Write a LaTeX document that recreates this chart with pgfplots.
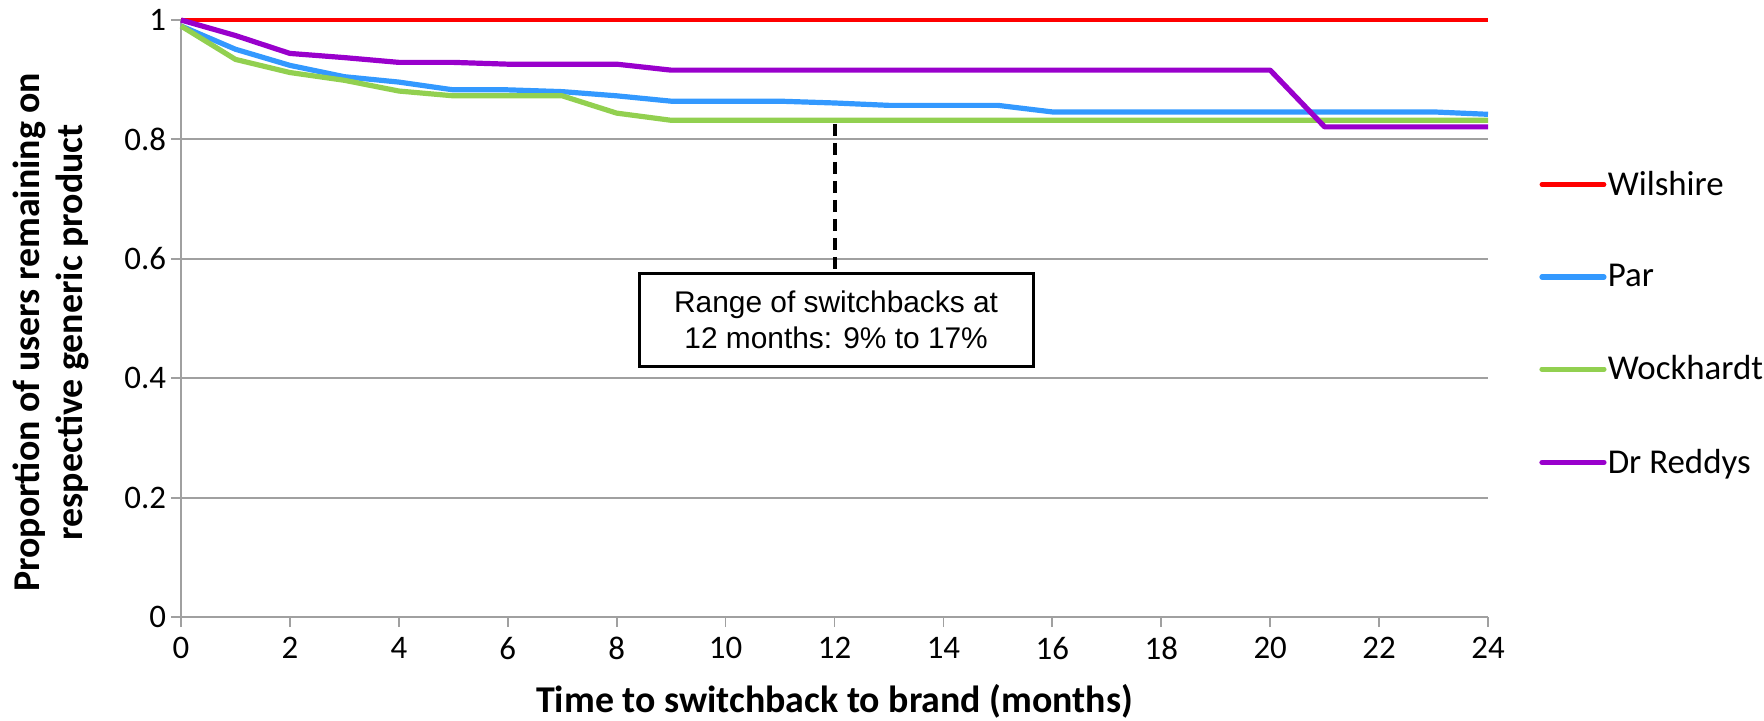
\documentclass[border=0pt]{standalone}
\usepackage{fontspec}
\setmainfont{Carlito}
\newfontfamily\arialfont{Liberation Sans}
\usepackage{pgfplots}
\pgfplotsset{compat=1.18}
\definecolor{cred}{HTML}{FF0000}
\definecolor{cblue}{HTML}{3399FF}
\definecolor{cgreen}{HTML}{92D050}
\definecolor{cpurple}{HTML}{9900CC}
\definecolor{cgrid}{HTML}{A0A0A0}
\begin{document}
\begin{tikzpicture}
\useasboundingbox (-90.5bp,-52bp) rectangle (791.5bp,308.5bp);
\begin{axis}[
  at={(0,0)}, anchor=south west,
  scale only axis, width=653.5bp, height=298.5bp,
  xmin=0, xmax=24, ymin=0, ymax=1,
  xtick={0,2,...,24}, ytick={0,0.2,0.4,0.6,0.8,1},
  axis lines*=left,
  axis line style={draw=cgrid, line width=0.9bp},
  ymajorgrids, grid style={draw=cgrid, line width=0.9bp},
  tick style={draw=cgrid, line width=0.9bp},
  tick align=outside, major tick length=5bp,
  /pgf/number format/assume math mode=true,
  ticklabel style={font=\fontsize{16.5}{18}\selectfont},
  xticklabel style={yshift=-1.5bp},
  yticklabel style={xshift=1bp},
  xlabel={Time to switchback to brand (months)},
  xlabel style={font=\bfseries\fontsize{19}{22}\selectfont, at={(axis description cs:0.5,-0.141)}, anchor=center},
  ylabel={Proportion of users remaining on\\respective generic product},
  ylabel style={font=\bfseries\fontsize{19}{21.5}\selectfont, align=center, at={(axis description cs:-0.0995,0.477)}, anchor=center},
  clip=false,
  legend style={at={(axis description cs:1.039,0.4916)}, anchor=west, draw=none, fill=none,
    font=\fontsize{17.5}{20}\selectfont, row sep=30bp, inner sep=0pt, nodes={inner xsep=0.6bp, inner ysep=1.5bp}},
  legend cell align=left,
  legend image code/.code={\draw[#1,line cap=round] (0bp,0bp) -- (31bp,0bp);},
]
\addplot[cred, line width=2.4bp] coordinates {(0,1) (24,1)};
\addlegendentry{Wilshire}
\addplot[cblue, line width=2.6bp, line join=round] coordinates {
(0,0.990) (1,0.951) (2,0.924) (3,0.905) (4,0.896) (5,0.883) (6,0.883) (7,0.880) (8,0.873)
(9,0.864) (10,0.864) (11,0.864) (12,0.861) (13,0.857) (14,0.857) (15,0.857) (16,0.846)
(17,0.846) (18,0.846) (19,0.846) (20,0.846) (21,0.846) (22,0.846) (23,0.846) (24,0.842)};
\addlegendentry{Par}
\addplot[cgreen, line width=2.6bp, line join=round] coordinates {
(0,0.990) (1,0.934) (2,0.912) (3,0.899) (4,0.881) (5,0.873) (6,0.873) (7,0.873) (8,0.844)
(9,0.832) (10,0.832) (11,0.832) (12,0.832) (13,0.832) (14,0.832) (15,0.832) (16,0.832)
(17,0.832) (18,0.832) (19,0.832) (20,0.832) (21,0.832) (22,0.832) (23,0.832) (24,0.832)};
\addlegendentry{Wockhardt}
\addplot[cpurple, line width=2.6bp, line join=round] coordinates {
(0,1.0) (1,0.974) (2,0.944) (3,0.937) (4,0.929) (5,0.929) (6,0.926) (7,0.926) (8,0.926)
(9,0.916) (10,0.916) (11,0.916) (12,0.916) (13,0.916) (14,0.916) (15,0.916) (16,0.916)
(17,0.916) (18,0.916) (19,0.916) (20,0.916) (21,0.821) (22,0.821) (23,0.821) (24,0.821)};
\addlegendentry{Dr Reddys}
\draw[black, line width=2bp, dash pattern=on 6bp off 3.5bp] (axis cs:12,0.826) -- (axis cs:12,0.578);
\node[draw=black, line width=1.6bp, fill=white, minimum width=197bp, minimum height=46.5bp,
  align=center, inner sep=0pt, font=\arialfont\fontsize{15}{18}\selectfont]
  at (axis cs:12.03,0.498) {Range of switchbacks at\\12 months: 9\% to 17\%};
\end{axis}
\end{tikzpicture}
\end{document}
